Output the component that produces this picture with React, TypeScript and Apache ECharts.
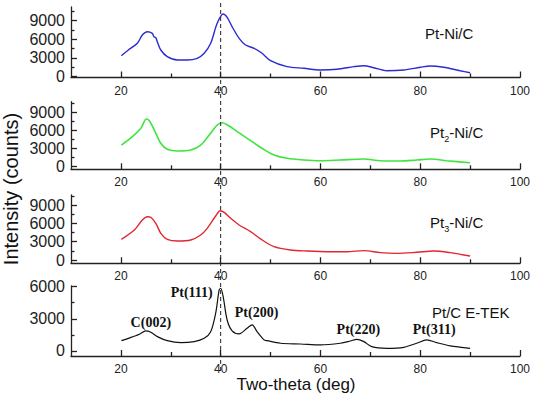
import React, { useEffect, useRef } from "react";
import * as echarts from "echarts";

// XRD patterns: [two-theta (deg), intensity (counts)]
const ptNiC: [number, number][] = [
  [20.1, 3340], [21.5, 4260], [23.3, 5330], [24.3, 6670], [25.3, 7200], [26.3, 6940],
  [26.6, 6400], [27.0, 6230], [27.3, 5600], [28.0, 4260], [29.3, 3180], [31.3, 2650],
  [33.3, 2650], [35.3, 2920], [36.7, 3730], [38.0, 5330], [39.3, 8550], [40.5, 10050],
  [41.3, 9510], [42.3, 8000], [43.7, 6140], [45.0, 5060], [46.7, 4530], [48.3, 3730],
  [50.0, 2550], [53.3, 1580], [56.7, 1320], [60.0, 1050], [63.3, 1160], [66.7, 1580],
  [68.7, 1740], [70.7, 1410], [73.3, 930], [76.7, 1050], [80.0, 1480], [82.0, 1690],
  [84.7, 1480], [88.0, 930], [90.0, 610],
];

const pt2NiC: [number, number][] = [
  [20.1, 3570], [22.3, 4970], [24.0, 6370], [25.1, 7940], [25.7, 7650], [26.7, 6090],
  [28.0, 3860], [29.3, 2850], [31.3, 2570], [34.0, 2730], [36.0, 3570], [37.7, 5250],
  [39.3, 6930], [40.3, 7320], [41.7, 6760], [43.3, 5810], [45.3, 4700], [47.3, 3570],
  [48.5, 2900], [50.7, 1900], [53.3, 1340], [56.7, 1060], [60.0, 940], [64.0, 1060],
  [68.7, 1220], [72.0, 940], [76.0, 890], [79.3, 1060], [82.0, 1220], [85.3, 940],
  [90.0, 600],
];

const pt3NiC: [number, number][] = [
  [20.1, 3390], [22.7, 4910], [24.3, 6550], [25.3, 7090], [26.0, 6990], [27.0, 6000],
  [28.0, 4370], [29.3, 3390], [31.3, 3110], [34.0, 3270], [36.0, 4090], [37.3, 5180],
  [39.0, 7200], [39.9, 8070], [40.7, 7800], [42.0, 6820], [43.7, 5730], [46.0, 4640],
  [48.0, 3450], [50.7, 2180], [54.0, 1640], [57.3, 1470], [61.3, 1360], [65.3, 1360],
  [68.7, 1530], [72.0, 1200], [75.3, 1090], [79.3, 1260], [82.7, 1470], [86.0, 1200],
  [90.0, 650],
];

const ptCEtek: [number, number][] = [
  [20.1, 960], [21.5, 1180], [23.7, 1560], [25.0, 1870], [26.0, 1740], [27.3, 1340],
  [29.3, 960], [32.0, 780], [34.7, 870], [36.7, 1180], [38.0, 1800], [39.0, 3520],
  [39.7, 5690], [40.0, 5850], [40.5, 5070], [41.3, 2890], [42.3, 1870], [43.7, 1590],
  [45.3, 2120], [46.3, 2430], [47.3, 1800], [48.7, 1030], [49.3, 960], [52.0, 720],
  [56.0, 650], [60.0, 560], [64.0, 720], [66.0, 930], [67.3, 1090], [68.7, 870],
  [70.3, 400], [73.3, 250], [76.7, 340], [79.3, 720], [81.3, 1030], [83.3, 780],
  [86.0, 470], [90.0, 250],
];

// Reflection labels placed at [two-theta, intensity]
const reflections: { name: string; coord: [number, number] }[] = [
  { name: "C(002)", coord: [26, 2700] },
  { name: "Pt(111)", coord: [34.2, 5500] },
  { name: "Pt(200)", coord: [47.2, 3550] },
  { name: "Pt(220)", coord: [67.6, 1960] },
  { name: "Pt(311)", coord: [82.8, 1960] },
];

const xMajorTicks = [20, 40, 60, 80, 100];
const xMinorTicks = [30, 50, 70, 90];
const yMajorTall = [0, 3000, 6000, 9000];
const yMinorTall = [1500, 4500, 7500, 10500];
const yMajorShort = [0, 3000, 6000];
const yMinorShort = [1500, 4500];
const referenceAngle = 40;

const SANS = "'Liberation Sans', Arial, sans-serif";
const SERIF = "'Liberation Serif', 'Times New Roman', serif";
const AXIS = "#222";

const panels = [
  { data: ptNiC, color: "#2b2bd2", width: 1.4, top: 7, height: 70.5, yRange: [-160, 11170], major: yMajorTall, minor: yMinorTall },
  { data: pt2NiC, color: "#3fe43f", width: 1.6, top: 101.7, height: 67.6, yRange: [-500, 10840], major: yMajorTall, minor: yMinorTall },
  { data: pt3NiC, color: "#e2262e", width: 1.4, top: 195, height: 68.3, yRange: [-540, 10640], major: yMajorTall, minor: yMinorTall },
  { data: ptCEtek, color: "#111111", width: 1.2, top: 286, height: 70, yRange: [-470, 6060], major: yMajorShort, minor: yMinorShort },
];

const plain = (v: number) => String(Math.round(v));

function buildOption() {
  const grid: any[] = [];
  const xAxis: any[] = [];
  const yAxis: any[] = [];
  const series: any[] = [];
  const lineStyle = { color: AXIS, width: 1.3 };

  panels.forEach((p, i) => {
    grid.push({ left: 71, right: 16, top: p.top, height: p.height, containLabel: false });
    xAxis.push({
      type: "value", gridIndex: i, min: 10, max: 100, position: "bottom",
      axisLine: { show: true, onZero: false, lineStyle },
      axisTick: { show: true, inside: true, length: 6, customValues: xMajorTicks, lineStyle },
      axisLabel: { show: true, customValues: xMajorTicks, formatter: plain, margin: 7, fontSize: 12, fontFamily: SANS, color: AXIS },
      splitLine: { show: false },
    });
    xAxis.push({
      type: "value", gridIndex: i, min: 10, max: 100, position: "bottom",
      axisLine: { show: false, onZero: false },
      axisTick: { show: true, inside: true, length: 4, customValues: xMinorTicks, lineStyle },
      axisLabel: { show: false },
      splitLine: { show: false },
    });
    yAxis.push({
      type: "value", gridIndex: i, min: p.yRange[0], max: p.yRange[1], position: "left",
      axisLine: { show: true, onZero: false, lineStyle },
      axisTick: { show: true, inside: true, length: 6, customValues: p.major, lineStyle },
      axisLabel: { show: true, customValues: p.major, formatter: plain, margin: 6, fontSize: 16, fontFamily: SANS, color: AXIS },
      splitLine: { show: false },
    });
    yAxis.push({
      type: "value", gridIndex: i, min: p.yRange[0], max: p.yRange[1], position: "left",
      axisLine: { show: false, onZero: false },
      axisTick: { show: true, inside: true, length: 3.5, customValues: p.minor, lineStyle },
      axisLabel: { show: false },
      splitLine: { show: false },
    });
    const s: any = {
      type: "line", xAxisIndex: 2 * i, yAxisIndex: 2 * i, data: p.data,
      showSymbol: false, smooth: 0.3, silent: true,
      lineStyle: { color: p.color, width: p.width },
    };
    if (i === 3) {
      s.markPoint = {
        symbol: "circle", symbolSize: 0, silent: true,
        itemStyle: { color: "transparent" },
        label: {
          show: true, position: "inside", formatter: (d: any) => d.name,
          fontFamily: SERIF, fontWeight: "bold", fontSize: 14, color: "#111",
        },
        data: reflections.map((r) => ({ name: r.name, coord: r.coord })),
      };
    }
    series.push(s);
  });

  return { animation: false, backgroundColor: "#fff", grid, xAxis, yAxis, series };
}

function sampleLabel(x: number, y: number, sub: string | null, rest: string) {
  const font = { fontFamily: SANS, fontSize: 15, fill: "#111" };
  if (!sub) {
    return { type: "text", x, y, style: { ...font, text: rest, verticalAlign: "middle" } };
  }
  const ptW = 14.2;
  return {
    type: "group", x, y,
    children: [
      { type: "text", x: 0, y: 0, style: { ...font, text: "Pt", verticalAlign: "middle" } },
      { type: "text", x: ptW, y: 7, style: { ...font, fontSize: 9, text: sub, verticalAlign: "middle" } },
      { type: "text", x: ptW + 5, y: 0, style: { ...font, text: rest, verticalAlign: "middle" } },
    ],
  };
}

export default function App() {
  const ref = useRef<HTMLDivElement>(null);
  useEffect(() => {
    if (!ref.current) return;
    const chart = echarts.init(ref.current, null, { renderer: "svg" });
    chart.setOption(buildOption());
    const xRef = chart.convertToPixel({ xAxisIndex: 0 }, referenceAngle) as number;
    chart.setOption({
      graphic: [
        {
          type: "line", silent: true, z: 10,
          shape: { x1: xRef, y1: 3, x2: xRef, y2: 372 },
          style: { stroke: "#222", lineWidth: 1, lineDash: [4, 3] },
        },
        sampleLabel(425, 33, null, "Pt-Ni/C"),
        sampleLabel(430, 132, "2", "-Ni/C"),
        sampleLabel(430, 222, "3", "-Ni/C"),
        sampleLabel(432, 312, null, "Pt/C E-TEK"),
        {
          type: "text", x: 11, y: 189, rotation: Math.PI / 2,
          style: { text: "Intensity (counts)", fontFamily: SANS, fontSize: 20, fill: "#111", align: "center", verticalAlign: "middle" },
        },
        {
          type: "text", x: 296, y: 384,
          style: { text: "Two-theta (deg)", fontFamily: SANS, fontSize: 17, fill: "#111", align: "center", verticalAlign: "middle" },
        },
      ],
    });
    return () => chart.dispose();
  }, []);
  return (
    <div
      ref={ref}
      style={{ position: "fixed", left: 0, top: 0, width: 536, height: 394, background: "#fff" }}
    />
  );
}
